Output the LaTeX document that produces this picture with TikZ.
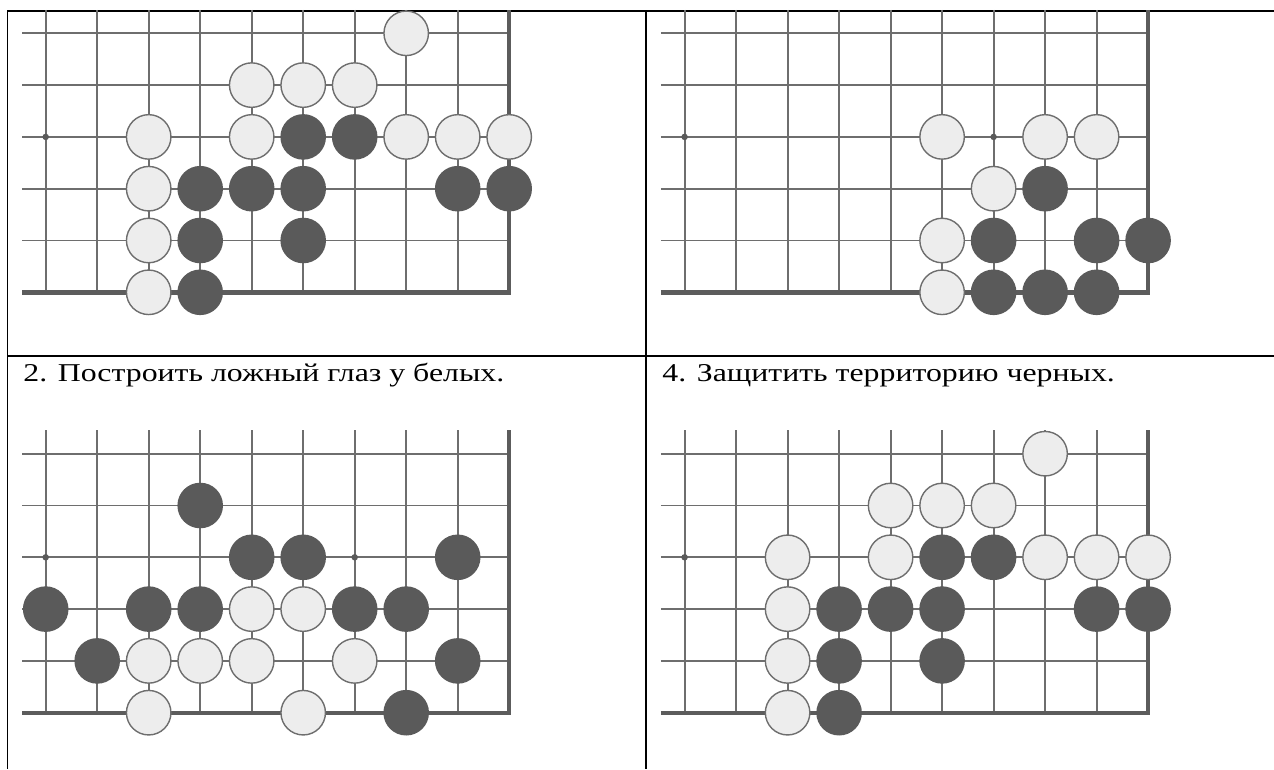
\documentclass[tikz,border=0pt]{standalone}
\usepackage{fontspec}
\setmainfont{Liberation Serif}
\usepackage{graphicx}
\usepackage{tikz}
\definecolor{GridGray}{RGB}{110,110,110}
\definecolor{EdgeGray}{RGB}{92,92,92}
\definecolor{StoneDark}{RGB}{90,90,90}
\definecolor{StoneLight}{RGB}{237,237,237}
\tikzset{
  gridline/.style={GridGray,line width=1.05pt},
  edgeline/.style={EdgeGray,line width=2.5pt,line join=miter},
  blackstone/.style={fill=StoneDark},
  whitestone/.style={fill=StoneLight,draw=GridGray,line width=0.8pt},
  tableline/.style={black,line width=1.1pt},
  caption/.style={anchor=base west,inner sep=0pt,font=\fontsize{14.6pt}{17pt}\selectfont}
}
% empty corner of the board, 10 x 6 lines
\newcommand{\goboard}{%
  \foreach \r in {0,...,4} \draw[gridline] (-0.46,\r) -- (9,\r);
  \foreach \c in {0,...,8} \draw[gridline] (\c,-0.45) -- (\c,5);
  \draw[edgeline] (-0.46,5) -- (9,5) -- (9,-0.45);
}
\newcommand{\hoshi}[2]{\fill[StoneDark] (#1,#2) circle (0.065cm);}

\begin{document}
\begin{tikzpicture}
  \useasboundingbox (0,0) rectangle (25.48,-15.38);
  % table
  \draw[tableline] (0.15,-0.22) -- (25.48,-0.22);
  \draw[tableline] (0.15,-7.12) -- (25.48,-7.12);
  \draw[tableline] (0.15,-0.2) -- (0.15,-15.38);
  \draw[tableline] (12.92,-0.2) -- (12.92,-15.38);

  \node[caption] (cap2) at (0.46,-7.63) {\scalebox{1.24}[1]{2. Построить ложный глаз у белых.}};
  \node[caption] (cap4) at (13.24,-7.63) {\scalebox{1.24}[1]{4. Защитить территорию черных.}};

  % board top left
  \begin{scope}[shift={(0.914,-0.666)},x=1.03cm,y=-1.036cm]
    \goboard
    \hoshi{0}{2}
    \foreach \c/\r in {7/0,4/1,5/1,6/1,2/2,4/2,7/2,8/2,9/2,2/3,2/4,2/5}
      \filldraw[whitestone] (\c,\r) circle (0.445cm);
    \foreach \c/\r in {5/2,6/2,3/3,4/3,5/3,8/3,9/3,3/4,5/4,3/5}
      \fill[blackstone] (\c,\r) circle (0.456cm);
  \end{scope}

  % board top right
  \begin{scope}[shift={(13.692,-0.666)},x=1.03cm,y=-1.036cm]
    \goboard
    \hoshi{0}{2}
    \hoshi{6}{2}
    \foreach \c/\r in {5/2,7/2,8/2,6/3,5/4,5/5}
      \filldraw[whitestone] (\c,\r) circle (0.445cm);
    \foreach \c/\r in {7/3,6/4,8/4,9/4,6/5,7/5,8/5}
      \fill[blackstone] (\c,\r) circle (0.456cm);
  \end{scope}

  % board bottom left
  \begin{scope}[shift={(0.914,-9.074)},x=1.03cm,y=-1.036cm]
    \goboard
    \hoshi{0}{2}
    \hoshi{6}{2}
    \foreach \c/\r in {4/3,5/3,2/4,3/4,4/4,6/4,2/5,5/5}
      \filldraw[whitestone] (\c,\r) circle (0.445cm);
    \foreach \c/\r in {3/1,4/2,5/2,8/2,0/3,2/3,3/3,6/3,7/3,1/4,8/4,7/5}
      \fill[blackstone] (\c,\r) circle (0.456cm);
  \end{scope}

  % board bottom right
  \begin{scope}[shift={(13.692,-9.074)},x=1.03cm,y=-1.036cm]
    \goboard
    \hoshi{0}{2}
    \foreach \c/\r in {7/0,4/1,5/1,6/1,2/2,4/2,7/2,8/2,9/2,2/3,2/4,2/5}
      \filldraw[whitestone] (\c,\r) circle (0.445cm);
    \foreach \c/\r in {5/2,6/2,3/3,4/3,5/3,8/3,9/3,3/4,5/4,3/5}
      \fill[blackstone] (\c,\r) circle (0.456cm);
  \end{scope}
\end{tikzpicture}
\end{document}
